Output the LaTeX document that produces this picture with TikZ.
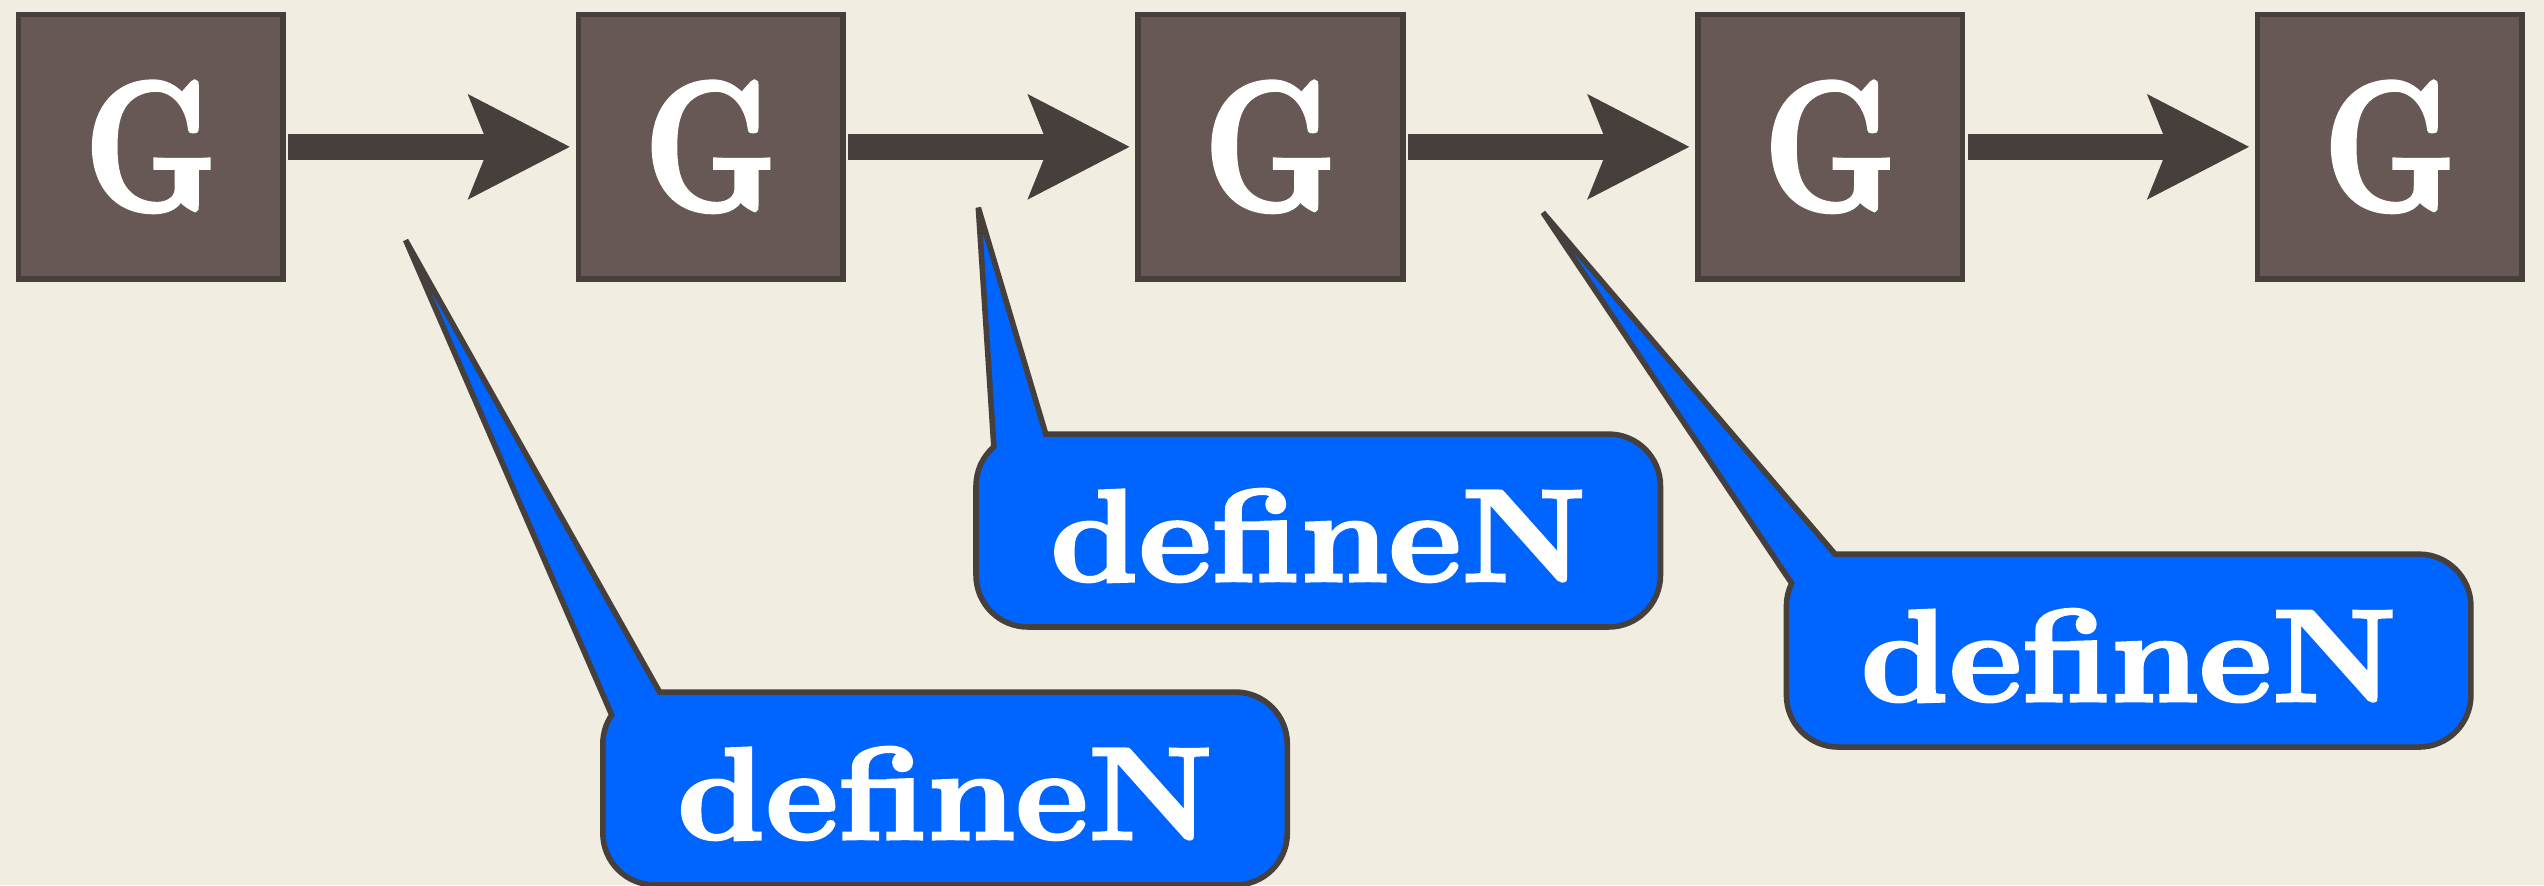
\documentclass[tikz,border=0pt]{standalone}
\usepackage{fontspec}
\newfontfamily\heavy{lmroman10-bold.otf}[FakeBold=2]
\usetikzlibrary{arrows.meta,backgrounds}
\definecolor{paper}{HTML}{F1EDE0}
\definecolor{boxfill}{HTML}{675856}
\definecolor{ink}{HTML}{463F3B}
\definecolor{noteblue}{HTML}{0064FF}
\tikzset{
  gbox/.style={draw=ink,line width=0.55mm,fill=boxfill,text=white,minimum size=26.1mm,
    inner sep=0pt,outer sep=0pt,font=\fontsize{52}{52}\selectfont\heavy},
  flow/.style={ink,line width=2.6mm,-{Stealth[length=9.9mm,width=10mm,inset=1.9mm]},
    shorten <=0.5mm,shorten >=0.8mm},
  note/.style={text=white,minimum width=67.36mm,minimum height=18.88mm,inner sep=0pt,
    text height=10mm,text depth=0pt,font=\fontsize{37}{37}\selectfont\heavy},
  notebg/.style={fill=noteblue,draw=ink,line width=0.55mm,miter limit=2}
}
\begin{document}
\begin{tikzpicture}[x=0.16mm,y=0.16mm]
	\useasboundingbox (0,0) rectangle (1568,-545.5);
	\foreach \i in {1,...,5}
		\node[gbox] (g\i) at ({93+345*(\i-1)},-90.5) {\scalebox{0.8}[1]{G}};
	\foreach \i [count=\j from 2] in {1,...,4}
		\draw[flow] (g\i) -- (g\j);
	\node[note] (n1) at (582.5,-486) {\scalebox{1.05}[1]{defineN}};
	\node[note] (n2) at (812.5,-327) {\scalebox{1.05}[1]{defineN}};
	\node[note] (n3) at (1312,-401) {\scalebox{1.05}[1]{defineN}};
	\coordinate (t1) at (250,-148);
	\coordinate (t2) at (603,-128);
	\coordinate (t3) at (951,-131);
	\begin{scope}[on background layer]
		\fill[paper] (0,0) rectangle (1568,-545.5);
		% wedge from the tip, rectangle with round corners, back to the tip
		\foreach \n/\a/\b in {1/35/146,2/43/131,3/30/154}
			\filldraw[notebg] (t\n) -- ([shift={(\a,0)}]n\n.north west)
				-- ([shift={(-32,0)}]n\n.north east) arc(90:0:32)
				-- ([shift={(0,32)}]n\n.south east) arc(0:-90:32)
				-- ([shift={(32,0)}]n\n.south west) arc(-90:-180:32)
				-- ([shift={(0,-32)}]n\n.north west) arc(180:\b:32) -- cycle;
	\end{scope}
\end{tikzpicture}
\end{document}
